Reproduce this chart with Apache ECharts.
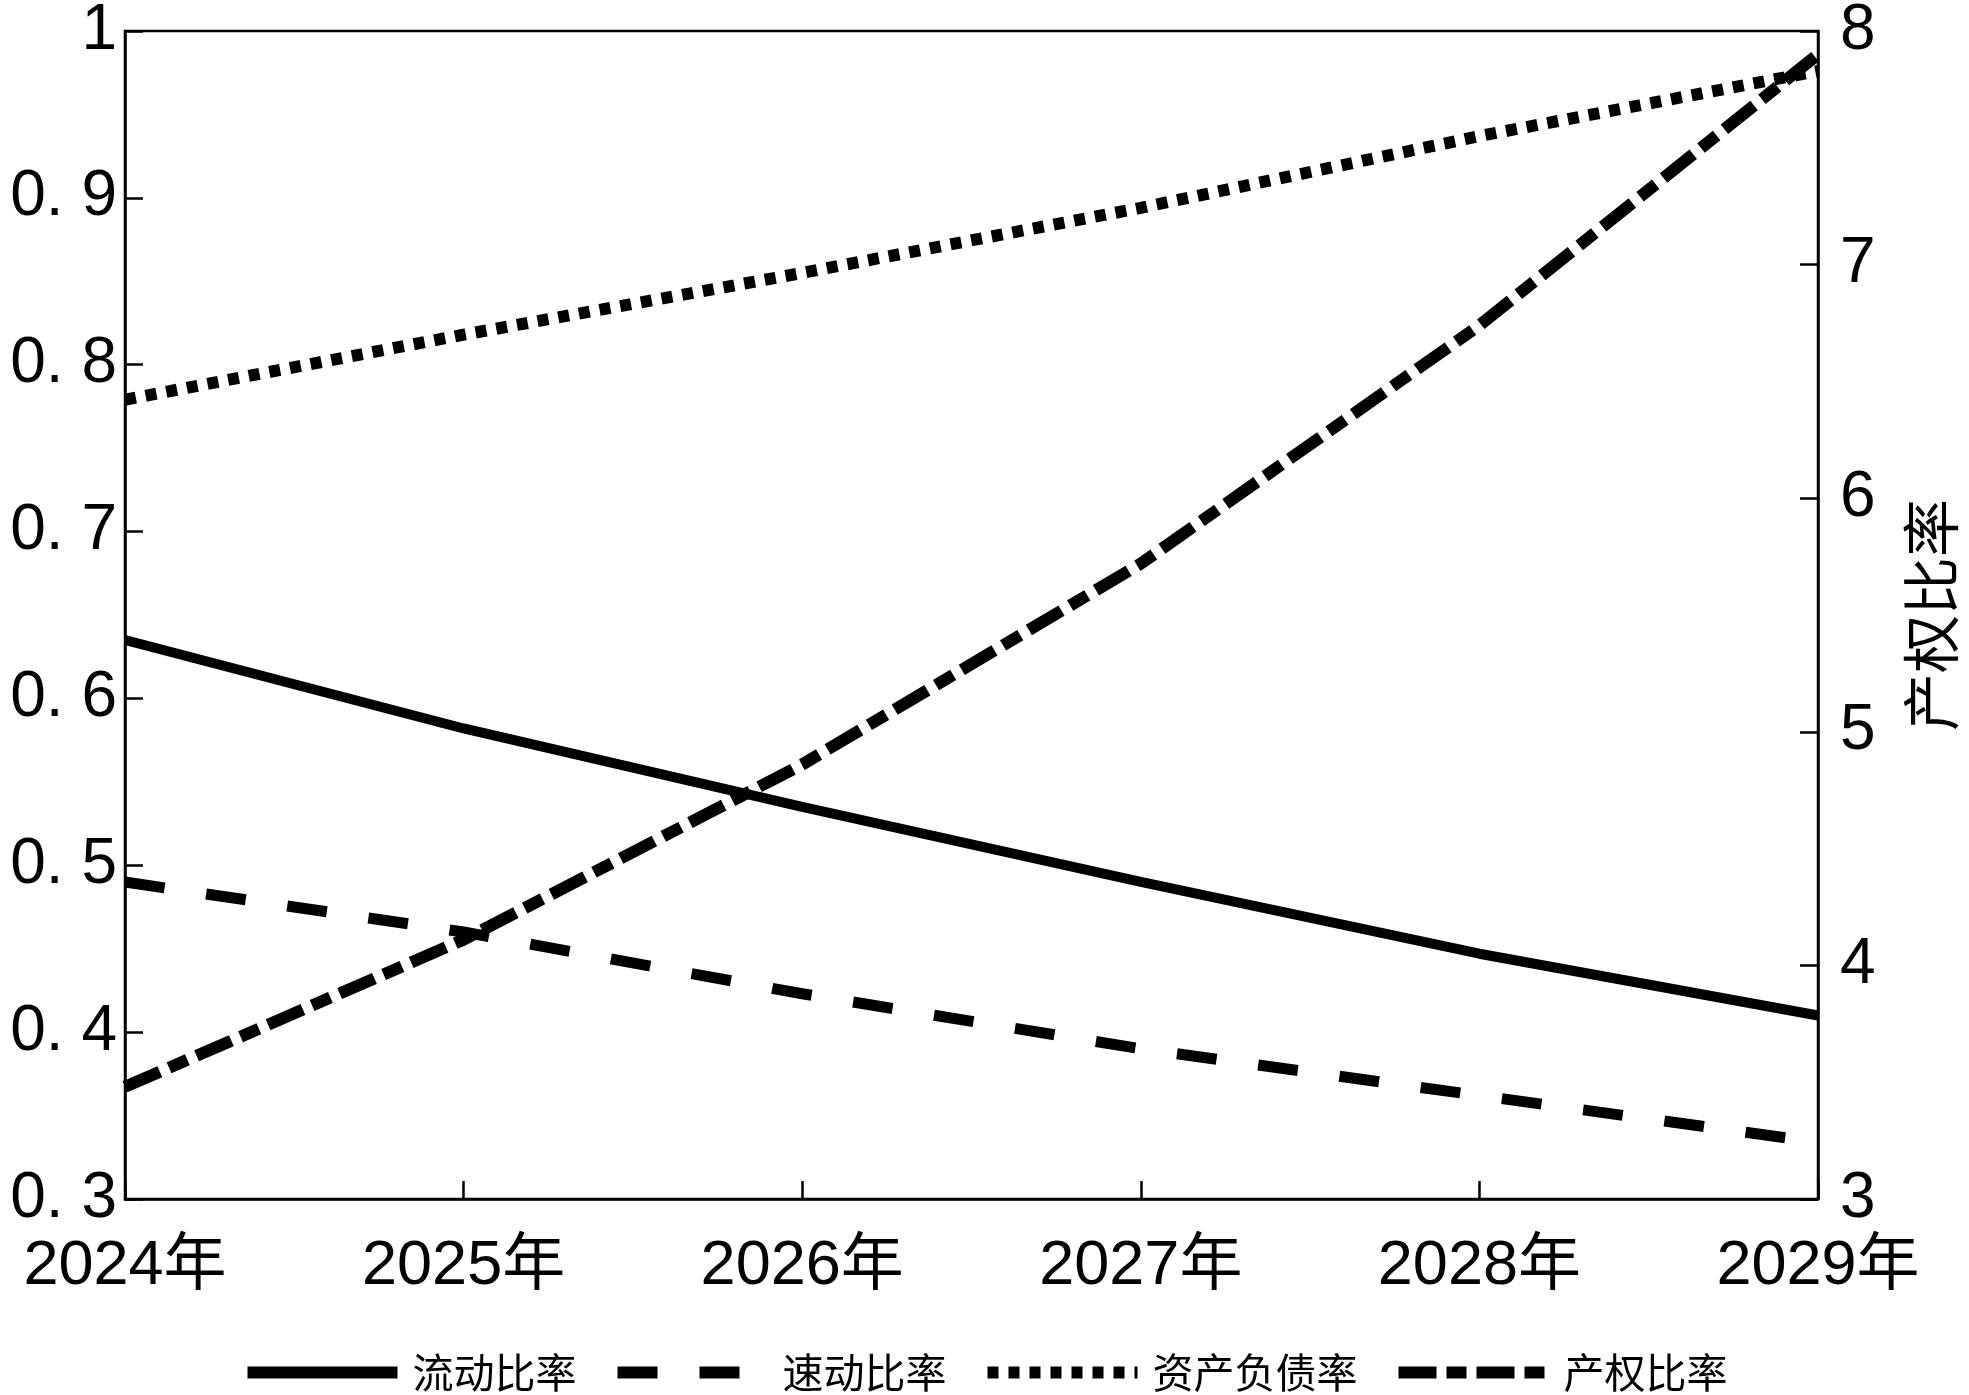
<!DOCTYPE html>
<html>
<head>
<meta charset="utf-8">
<script src="https://cdn.jsdelivr.net/npm/echarts@6/dist/echarts.min.js"></script>
<style>
    html, body { margin: 0; padding: 0; background: #fff; }
    #chart { width: 1969px; height: 1395px; }
</style>
</head>
<body>
<div id="chart"></div>
<script>
// 年份
const years = ['2024年', '2025年', '2026年', '2027年', '2028年', '2029年']
// 左轴：比率
const liudong = [0.635, 0.582, 0.535, 0.490, 0.447, 0.410]
const sudong = [0.490, 0.460, 0.423, 0.390, 0.362, 0.334]
const zichanfuzhai = [0.779, 0.818, 0.855, 0.894, 0.937, 0.976]
// 右轴：产权比率
const chanquan = [3.48, 4.11, 4.86, 5.72, 6.74, 7.90]
// 刻度标签
const leftTickLabels = ['0. 3', '0. 4', '0. 5', '0. 6', '0. 7', '0. 8', '0. 9', '1']
const rightTickLabels = ['3', '4', '5', '6', '7', '8']

const FONT = "'Liberation Sans', Arial, 'Noto Sans CJK SC', sans-serif"

let chart = echarts.init(document.getElementById('chart'))

//公共轴样式
const axisLineStyle = { color: '#000', width: 2.5 }
const tickStyle = { color: '#000', width: 2.5 }

const option = {
    animation: false,
    backgroundColor: '#fff',
    grid: {
        left: 125,
        right: 151,
        top: 31,
        bottom: 196,
        outerBoundsMode: 'none',
        containLabel: false,
        show: true,
        borderColor: '#000',
        borderWidth: 2.5
    },
    legend: {
        left: 'center',
        top: 1347,
        itemWidth: 150,
        itemHeight: 40,
        itemGap: 35,
        lineStyle: { width: 12 },
        itemStyle: { opacity: 0 },
        textStyle: {
            fontFamily: "'Noto Sans CJK SC', sans-serif",
            fontSize: 41,
            color: '#000',
            padding: [0, 0, 0, 10]
        },
        data: ['流动比率', '速动比率', '资产负债率', '产权比率']
    },
    xAxis: {
        type: 'category',
        data: years,
        boundaryGap: false,
        axisLine: { lineStyle: axisLineStyle },
        axisTick: { inside: true, length: 18, lineStyle: tickStyle },
        axisLabel: {
            color: '#000',
            fontSize: 63,
            fontFamily: FONT,
            margin: 36
        },
        splitLine: { show: false }
    },
    yAxis: [
        {
            type: 'value',
            min: 0.3,
            max: 1,
            interval: 0.1,
            axisLine: { show: true, lineStyle: axisLineStyle },
            axisTick: { show: true, inside: true, length: 18, lineStyle: tickStyle },
            axisLabel: {
                color: '#000',
                fontSize: 64,
                fontFamily: FONT,
                margin: 8,
                formatter: function (v) {
                    return leftTickLabels[Math.round((v - 0.3) / 0.1)]
                }
            },
            splitLine: { show: false }
        },
        {
            type: 'value',
            position: 'right',
            min: 3,
            max: 8,
            interval: 1,
            name: '产权比率',
            nameLocation: 'middle',
            nameRotate: 90,
            nameGap: 84,
            nameTextStyle: {
                color: '#000',
                fontSize: 58,
                fontFamily: "'Noto Sans CJK SC', sans-serif"
            },
            axisLine: { show: true, lineStyle: axisLineStyle },
            axisTick: { show: true, inside: true, length: 18, lineStyle: tickStyle },
            axisLabel: {
                color: '#000',
                fontSize: 64,
                fontFamily: FONT,
                margin: 22,
                formatter: function (v) {
                    return rightTickLabels[Math.round(v - 3)]
                }
            },
            splitLine: { show: false }
        }
    ],
    series: [
        {
            name: '流动比率',
            type: 'line',
            data: liudong,
            symbol: 'none',
            lineStyle: { color: '#000', width: 10, type: 'solid' },
            itemStyle: { color: '#000' }
        },
        {
            name: '速动比率',
            type: 'line',
            data: sudong,
            symbol: 'none',
            lineStyle: { color: '#000', width: 11, type: [40, 42], cap: 'butt' },
            itemStyle: { color: '#000' }
        },
        {
            name: '资产负债率',
            type: 'line',
            data: zichanfuzhai,
            symbol: 'none',
            lineStyle: { color: '#000', width: 12, type: [11, 10], cap: 'butt' },
            itemStyle: { color: '#000' }
        },
        {
            name: '产权比率',
            type: 'line',
            yAxisIndex: 1,
            data: chanquan,
            symbol: 'none',
            lineStyle: { color: '#000', width: 12, type: [38, 10, 20, 10], cap: 'butt' },
            itemStyle: { color: '#000' }
        }
    ]
}
chart.setOption(option)
</script>
</body>
</html>
